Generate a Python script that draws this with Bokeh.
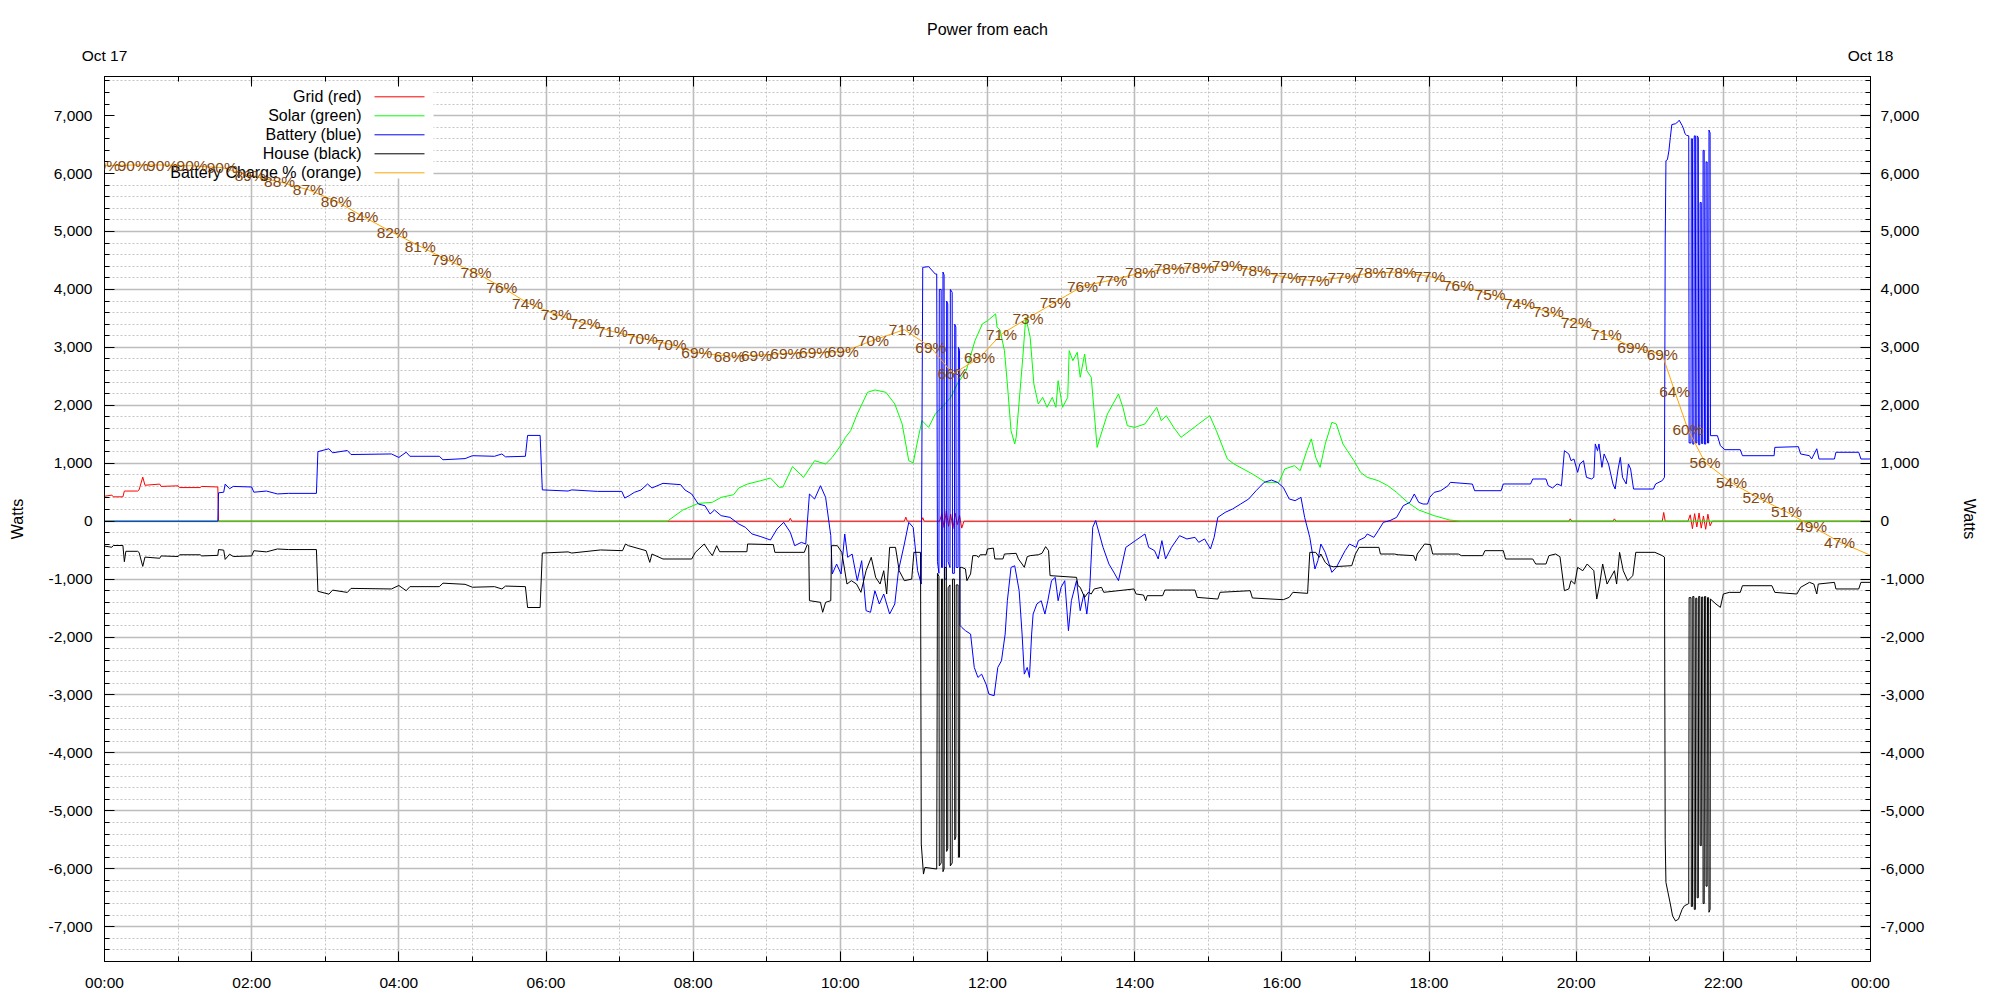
from bokeh.plotting import figure
from bokeh.models import (Range1d, LinearAxis, FixedTicker, NumeralTickFormatter,
                          Label, LabelSet, BoxAnnotation, ColumnDataSource)
from bokeh.embed import file_html
from bokeh.resources import INLINE
from bokeh.core.properties import value

# ---------------- data ----------------
title_text = "Power from each"
day_labels = ["Oct 17", "Oct 18"]
hour_ticks = list(range(0, 25, 2))
hour_labels = ["00:00", "02:00", "04:00", "06:00", "08:00", "10:00", "12:00",
               "14:00", "16:00", "18:00", "20:00", "22:00", "00:00"]
watt_ticks = list(range(-7000, 7001, 1000))
series_names = ["Grid (red)", "Solar (green)", "Battery (blue)", "House (black)",
                "Battery Charge % (orange)"]

# (hour of day, watts)
grid_pts = [(0, 430), (0.1, 450), (0.12, 420), (0.25, 420), (0.27, 520), (0.45, 520), (0.47, 540),
            (0.52, 760), (0.55, 620), (0.75, 640), (0.77, 600), (1.0, 610), (1.02, 580), (1.3, 580),
            (1.32, 600), (1.54, 590), (1.55, 0), (9.3, 0), (9.32, 50), (9.34, 0), (10.87, 0),
            (10.89, 70), (10.91, 0), (11.1, 0), (11.12, 60), (11.14, 0), (11.35, 0), (11.38, 130),
            (11.41, -110), (11.44, 180), (11.47, -90), (11.5, 120), (11.53, -130), (11.56, 140),
            (11.59, -60), (11.62, 100), (11.65, -120), (11.68, 0), (19.9, 0), (19.92, 40),
            (19.94, 0), (20.5, 0), (20.52, 40), (20.54, 0), (21.17, 0), (21.19, 150), (21.21, 0),
            (21.52, 0), (21.55, 110), (21.58, -130), (21.61, 130), (21.64, -100), (21.67, 140),
            (21.70, -120), (21.73, 90), (21.76, -140), (21.79, 120), (21.82, -80), (21.85, 0),
            (24, 0)]

solar_pts = [(0, 0), (7.65, 0), (7.86, 193), (8.07, 307), (8.26, 325), (8.38, 411), (8.55, 457),
             (8.62, 573), (8.74, 642), (8.92, 699), (9.05, 745), (9.17, 584), (9.22, 590),
             (9.35, 941), (9.50, 756), (9.65, 1044), (9.80, 987), (9.89, 1101), (10.02, 1333),
             (10.07, 1448), (10.14, 1562), (10.23, 1850), (10.37, 2224), (10.47, 2265),
             (10.62, 2224), (10.74, 2023), (10.84, 1678), (10.93, 1044), (10.99, 1005),
             (11.06, 1447), (11.11, 1735), (11.20, 1619), (11.29, 1850), (11.38, 1965),
             (11.50, 2137), (11.59, 2368), (11.71, 2598), (11.83, 3116), (11.93, 3404),
             (12.0, 3460), (12.11, 3577), (12.13, 3347), (12.17, 3300), (12.23, 2943),
             (12.27, 2368), (12.32, 1562), (12.37, 1333), (12.39, 1447), (12.48, 2828),
             (12.52, 3519), (12.58, 3174), (12.63, 2368), (12.69, 2023), (12.75, 2137),
             (12.81, 1965), (12.88, 2137), (12.93, 1965), (12.96, 2425), (13.02, 1965),
             (13.09, 2137), (13.11, 2943), (13.16, 2770), (13.22, 2914), (13.26, 2483),
             (13.32, 2885), (13.35, 2598), (13.41, 2483), (13.49, 1274), (13.53, 1447),
             (13.63, 1850), (13.78, 2195), (13.84, 1965), (13.90, 1648), (14.0, 1619),
             (14.14, 1678), (14.30, 1965), (14.36, 1735), (14.43, 1821), (14.53, 1619),
             (14.63, 1447), (14.87, 1678), (15.02, 1821), (15.11, 1562), (15.26, 1073),
             (15.35, 987), (15.60, 815), (15.78, 670), (15.96, 670), (16.04, 901), (16.17, 958),
             (16.25, 872), (16.34, 1217), (16.40, 1419), (16.46, 1102), (16.52, 929),
             (16.59, 1333), (16.68, 1706), (16.74, 1678), (16.83, 1333), (16.89, 1217),
             (16.98, 1044), (17.07, 843), (17.16, 757), (17.31, 699), (17.44, 613), (17.56, 497),
             (17.71, 325), (17.86, 193), (18.07, 95), (18.28, 20), (18.43, 0), (24, 0)]

battery_pts = [(0, 0), (1.54, 0), (1.55, 490), (1.62, 500), (1.64, 640), (1.70, 560), (1.75, 600),
               (2.0, 590), (2.03, 500), (2.2, 520), (2.35, 470), (2.5, 480), (2.88, 480),
               (2.90, 1200), (3.05, 1250), (3.1, 1180), (3.3, 1220), (3.35, 1150), (3.9, 1160),
               (4.0, 1100), (4.1, 1190), (4.15, 1120), (4.55, 1120), (4.6, 1060), (4.9, 1080),
               (5.0, 1130), (5.3, 1120), (5.4, 1160), (5.45, 1110), (5.72, 1120), (5.75, 1480),
               (5.92, 1480), (5.95, 540), (6.3, 520), (6.35, 540), (6.7, 514), (7.03, 514),
               (7.07, 399), (7.13, 440), (7.20, 497), (7.29, 537), (7.38, 642), (7.44, 573),
               (7.59, 653), (7.83, 630), (7.89, 537), (7.98, 469), (8.07, 296), (8.16, 267),
               (8.23, 124), (8.29, 193), (8.38, 95), (8.50, 66), (8.62, -48), (8.71, -106),
               (8.80, -221), (8.92, -267), (9.05, -325), (9.14, -135), (9.23, -20), (9.32, -192),
               (9.38, -423), (9.47, -366), (9.53, -394), (9.58, 469), (9.65, 382), (9.73, 612),
               (9.80, 411), (9.87, -250), (9.89, -912), (9.95, -740), (10.01, -912), (10.06, -221),
               (10.10, -624), (10.16, -567), (10.23, -1027), (10.29, -682), (10.35, -1545),
               (10.41, -1573), (10.47, -1200), (10.53, -1430), (10.59, -1257), (10.67, -1602),
               (10.74, -1430), (10.79, -855), (10.87, -394), (10.93, -20), (10.99, -106),
               (11.05, -855), (11.10, -1085), (11.12, 4381), (11.20, 4393), (11.29, 4266),
               (11.31, 4266), (11.32, -700), (11.34, -900), (11.345, 4000), (11.37, 4000),
               (11.375, -800), (11.39, -800), (11.395, 4300), (11.41, 4250), (11.415, -1000),
               (11.44, -1000), (11.445, 3800), (11.46, 3750), (11.465, -700), (11.49, -800),
               (11.495, 4000), (11.52, 3950), (11.525, -900), (11.55, -900), (11.555, 3400),
               (11.57, 3350), (11.575, -800), (11.60, -800), (11.605, 3000), (11.62, 2950),
               (11.625, -1800), (11.65, -1833), (11.70, -1890), (11.77, -1948), (11.82, -2524),
               (11.87, -2697), (11.92, -2640), (11.98, -2812), (12.02, -2985), (12.09, -3013),
               (12.14, -2524), (12.19, -2409), (12.24, -1948), (12.27, -1373), (12.32, -797),
               (12.37, -770), (12.43, -1200), (12.47, -1948), (12.50, -2640), (12.54, -2524),
               (12.57, -2697), (12.60, -1948), (12.62, -1603), (12.67, -1430), (12.73, -1373),
               (12.78, -1603), (12.82, -1373), (12.87, -1027), (12.92, -970), (12.96, -1373),
               (13.00, -1142), (13.05, -1027), (13.10, -1890), (13.14, -1373), (13.21, -1027),
               (13.26, -1545), (13.31, -1257), (13.35, -1603), (13.39, -1142), (13.43, -106),
               (13.47, 10), (13.52, -221), (13.57, -450), (13.65, -739), (13.73, -911),
               (13.78, -1027), (13.83, -739), (13.88, -452), (14.01, -336), (14.14, -221),
               (14.19, -452), (14.27, -509), (14.32, -652), (14.37, -336), (14.42, -652),
               (14.50, -452), (14.61, -250), (14.71, -307), (14.82, -279), (14.87, -365),
               (14.95, -307), (15.03, -480), (15.08, -279), (15.13, 66), (15.23, 152),
               (15.33, 210), (15.44, 296), (15.55, 383), (15.65, 526), (15.76, 670), (15.86, 710),
               (15.94, 670), (16.02, 583), (16.10, 383), (16.18, 354), (16.26, 411), (16.31, 66),
               (16.38, -279), (16.45, -825), (16.49, -682), (16.53, -394), (16.59, -538),
               (16.68, -883), (16.74, -797), (16.86, -509), (16.92, -394), (17.01, -452),
               (17.04, -336), (17.13, -279), (17.16, -221), (17.25, -279), (17.31, -163),
               (17.38, -20), (17.47, 10), (17.56, 66), (17.65, 267), (17.74, 325), (17.80, 469),
               (17.86, 325), (17.92, 296), (17.98, 296), (18.01, 411), (18.07, 497), (18.16, 526),
               (18.26, 613), (18.29, 670), (18.59, 640), (18.62, 526), (18.98, 526), (19.01, 642),
               (19.38, 642), (19.41, 728), (19.59, 728), (19.62, 613), (19.68, 573), (19.74, 642),
               (19.80, 613), (19.84, 1217), (19.90, 1160), (19.93, 1044), (19.97, 1073),
               (20.02, 843), (20.05, 987), (20.10, 1044), (20.14, 757), (20.21, 728), (20.24, 757),
               (20.26, 1333), (20.29, 1217), (20.31, 1333), (20.35, 929), (20.38, 1160),
               (20.44, 987), (20.50, 642), (20.53, 555), (20.57, 901), (20.60, 1102), (20.63, 757),
               (20.68, 642), (20.71, 987), (20.74, 901), (20.78, 555), (21.05, 555), (21.08, 642),
               (21.17, 700), (21.20, 757), (21.21, 4785), (21.22, 6222), (21.24, 6240),
               (21.26, 6390), (21.28, 6625), (21.30, 6845), (21.35, 6860), (21.39, 6900),
               (21.40, 6920), (21.44, 6830), (21.46, 6770), (21.48, 6685), (21.50, 6660),
               (21.53, 6650), (21.535, 1350), (21.56, 1350), (21.565, 6600), (21.58, 6600),
               (21.585, 1330), (21.60, 1330), (21.605, 6650), (21.62, 6650), (21.625, 1350),
               (21.64, 1350), (21.645, 6650), (21.66, 6620), (21.665, 1320), (21.68, 1320),
               (21.685, 5500), (21.70, 5500), (21.705, 1340), (21.72, 1340), (21.725, 6400),
               (21.74, 6400), (21.745, 1330), (21.76, 1330), (21.765, 6200), (21.78, 6200),
               (21.785, 1350), (21.80, 1350), (21.805, 6750), (21.82, 6700), (21.825, 1476),
               (21.92, 1476), (21.96, 1303), (22.02, 1234), (22.23, 1234), (22.26, 1130),
               (22.69, 1130), (22.70, 1274), (23.02, 1286), (23.05, 1160), (23.17, 1130),
               (23.20, 1073), (23.27, 1250), (23.30, 1073), (23.51, 1073), (23.53, 1189),
               (23.84, 1189), (23.87, 1073), (24.0, 1073)]

house_pts = [(0, -430), (0.1, -450), (0.12, -420), (0.25, -420), (0.27, -700), (0.29, -520),
             (0.45, -520), (0.47, -540), (0.52, -780), (0.55, -620), (0.75, -640), (0.77, -600),
             (1.0, -610), (1.02, -580), (1.3, -580), (1.32, -600), (1.54, -590), (1.55, -490),
             (1.62, -500), (1.64, -660), (1.70, -570), (1.75, -610), (2.0, -600), (2.03, -510),
             (2.2, -530), (2.35, -480), (2.5, -490), (2.88, -490), (2.90, -1210), (3.05, -1260),
             (3.1, -1190), (3.3, -1230), (3.35, -1160), (3.9, -1170), (4.0, -1110), (4.1, -1200),
             (4.15, -1130), (4.55, -1130), (4.6, -1070), (4.9, -1090), (5.0, -1140), (5.3, -1130),
             (5.4, -1170), (5.45, -1120), (5.72, -1130), (5.75, -1490), (5.92, -1490),
             (5.95, -550), (6.3, -530), (6.35, -550), (6.74, -497), (7.04, -509), (7.08, -394),
             (7.12, -423), (7.36, -509), (7.41, -711), (7.44, -567), (7.59, -653), (7.98, -653),
             (8.03, -538), (8.15, -394), (8.21, -509), (8.26, -595), (8.32, -423), (8.36, -527),
             (8.73, -527), (8.74, -394), (9.09, -405), (9.11, -538), (9.51, -538), (9.55, -405),
             (9.57, -423), (9.58, -1372), (9.73, -1401), (9.76, -1573), (9.80, -1401),
             (9.87, -1372), (9.88, -423), (9.96, -423), (10.02, -538), (10.09, -1085),
             (10.15, -1027), (10.22, -1085), (10.28, -1228), (10.35, -855), (10.42, -624),
             (10.48, -970), (10.54, -1085), (10.59, -855), (10.63, -1257), (10.67, -452),
             (10.75, -452), (10.80, -855), (10.87, -1027), (10.97, -1000), (11.00, -538),
             (11.09, -538), (11.10, -5573), (11.13, -6091), (11.15, -5976), (11.31, -6004),
             (11.32, -900), (11.34, -950), (11.345, -5950), (11.37, -5900), (11.375, -1000),
             (11.39, -1000), (11.395, -6050), (11.41, -6000), (11.415, -800), (11.44, -800),
             (11.445, -5700), (11.46, -5650), (11.465, -1150), (11.49, -1100), (11.495, -5950),
             (11.52, -5900), (11.525, -1000), (11.55, -1000), (11.555, -5500), (11.57, -5450),
             (11.575, -1100), (11.60, -1100), (11.605, -5800), (11.62, -5800), (11.625, -800),
             (11.65, -797), (11.70, -825), (11.72, -1027), (11.77, -911), (11.80, -595),
             (11.85, -595), (11.88, -623), (11.90, -580), (11.98, -580), (12.00, -480),
             (12.08, -465), (12.10, -652), (12.21, -652), (12.23, -567), (12.39, -555),
             (12.42, -652), (12.47, -740), (12.50, -797), (12.54, -612), (12.58, -595),
             (12.69, -580), (12.74, -555), (12.79, -440), (12.83, -509), (12.85, -940),
             (13.21, -970), (13.23, -1114), (13.26, -1142), (13.32, -1315), (13.37, -1228),
             (13.41, -1257), (13.45, -1170), (13.55, -1142), (13.58, -1228), (13.99, -1170),
             (14.02, -1257), (14.12, -1275), (14.15, -1373), (14.17, -1286), (14.38, -1286),
             (14.41, -1189), (14.82, -1189), (14.85, -1315), (15.13, -1344), (15.16, -1228),
             (15.57, -1200), (15.60, -1326), (16.02, -1355), (16.10, -1315), (16.15, -1228),
             (16.35, -1246), (16.38, -538), (16.46, -538), (16.51, -623), (16.53, -567),
             (16.59, -711), (16.64, -768), (16.70, -786), (16.95, -768), (17.00, -567),
             (17.05, -452), (17.32, -452), (17.34, -567), (17.53, -567), (17.58, -580),
             (17.79, -595), (17.82, -682), (17.84, -567), (17.94, -394), (18.02, -405),
             (18.05, -567), (18.40, -567), (18.44, -595), (18.73, -595), (18.76, -509),
             (19.01, -509), (19.04, -653), (19.41, -653), (19.45, -739), (19.59, -739),
             (19.63, -595), (19.72, -567), (19.78, -613), (19.84, -1200), (19.90, -1170),
             (19.93, -1027), (19.98, -1085), (20.02, -797), (20.09, -855), (20.15, -739),
             (20.24, -855), (20.28, -1344), (20.32, -1085), (20.36, -739), (20.42, -1085),
             (20.52, -855), (20.55, -1085), (20.59, -538), (20.64, -855), (20.70, -1027),
             (20.77, -941), (20.81, -538), (21.07, -538), (21.17, -595), (21.20, -620),
             (21.21, -5500), (21.22, -6235), (21.28, -6608), (21.31, -6813), (21.35, -6900),
             (21.39, -6870), (21.44, -6700), (21.47, -6640), (21.53, -6600), (21.535, -1320),
             (21.56, -1320), (21.565, -6650), (21.58, -6650), (21.585, -1300), (21.60, -1300),
             (21.605, -6700), (21.62, -6700), (21.625, -1330), (21.64, -1330), (21.645, -6500),
             (21.66, -6500), (21.665, -1300), (21.68, -1300), (21.685, -5600), (21.70, -5600),
             (21.705, -1310), (21.72, -1310), (21.725, -6600), (21.74, -6600), (21.745, -1300),
             (21.76, -1300), (21.765, -6300), (21.78, -6300), (21.785, -1320), (21.80, -1320),
             (21.805, -6750), (21.82, -6700), (21.825, -1344), (21.90, -1430), (21.96, -1488),
             (22.00, -1257), (22.08, -1229), (22.23, -1229), (22.26, -1114), (22.66, -1114),
             (22.70, -1229), (23.00, -1257), (23.05, -1142), (23.17, -1056), (23.23, -1085),
             (23.27, -1257), (23.29, -1085), (23.51, -1056), (23.53, -1170), (23.84, -1170),
             (23.87, -1056), (24.0, -1056)]

# battery state of charge: hour, percent, printed label
charge_t = [0.0, 0.39, 0.79, 1.19, 1.60, 1.98, 2.38, 2.77, 3.15, 3.51, 3.91, 4.29, 4.65, 5.05,
            5.40, 5.75, 6.14, 6.53, 6.90, 7.31, 7.70, 8.05, 8.49, 8.86, 9.26, 9.65, 10.04, 10.45,
            10.87, 11.23, 11.53, 11.89, 12.19, 12.55, 12.92, 13.29, 13.69, 14.08, 14.47, 14.87,
            15.26, 15.64, 16.05, 16.44, 16.83, 17.21, 17.62, 18.01, 18.40, 18.83, 19.23, 19.62,
            20.00, 20.41, 20.77, 21.17, 21.34, 21.52, 21.75, 22.11, 22.47, 22.86, 23.20, 23.58,
            24.0]
charge_pct = [89.9, 90.0, 90.0, 89.9, 89.7, 88.8, 88.1, 87.2, 85.9, 84.2, 82.4, 80.8, 79.3, 77.8,
              76.2, 74.4, 73.1, 72.1, 71.2, 70.4, 69.7, 68.8, 68.4, 68.5, 68.7, 68.8, 68.9, 70.2,
              71.4, 69.4, 66.4, 68.2, 70.9, 72.7, 74.5, 76.3, 77.0, 77.8, 78.3, 78.4, 78.6, 78.1,
              77.3, 76.9, 77.3, 77.8, 77.9, 77.4, 76.4, 75.4, 74.4, 73.4, 72.2, 70.8, 69.4, 68.6,
              64.4, 60.1, 56.4, 54.1, 52.4, 50.8, 49.2, 47.4, 45.9]
charge_lbl = ["90%", "90%", "90%", "90%", "90%", "89%", "88%", "87%", "86%", "84%", "82%", "81%",
              "79%", "78%", "76%", "74%", "73%", "72%", "71%", "70%", "70%", "69%", "68%", "69%",
              "69%", "69%", "69%", "70%", "71%", "69%", "66%", "68%", "71%", "73%", "75%", "76%",
              "77%", "78%", "78%", "78%", "79%", "78%", "77%", "77%", "77%", "78%", "78%", "77%",
              "76%", "75%", "74%", "73%", "72%", "71%", "69%", "69%", "64%", "60%", "56%", "54%",
              "52%", "51%", "49%", "47%", ""]

# ---------------- styling / layout ----------------
FONT = "Liberation Sans"
COLORS = ["#ff0000", "#00ff00", "#0000ff", "#000000", "#ffa500"]
LABEL_BROWN = "#85480f"
FRAME_W, FRAME_H = 1766, 885
Y_MIN, Y_MAX = -7600, 7675

p = figure(frame_width=FRAME_W, frame_height=FRAME_H,
           min_border_left=104, min_border_right=122, min_border_top=76, min_border_bottom=31,
           x_range=Range1d(0, 24), y_range=Range1d(Y_MIN, Y_MAX),
           output_backend="svg", toolbar_location=None, title=title_text)
p.extra_y_ranges = {"pct": Range1d(0, 100)}
p.background_fill_color = "white"
p.border_fill_color = "white"
p.outline_line_color = "black"
p.outline_line_width = 1

p.title.align = "center"
p.title.text_font = FONT
p.title.text_font_size = "16px"
p.title.text_font_style = "normal"
p.title.text_color = "black"
p.title.standoff = 11

x_minor = [h for h in range(1, 24, 2)]
y_minor = [v for v in range(-7600, 7601, 200) if v % 1000 != 0]
xt = FixedTicker(ticks=hour_ticks, minor_ticks=x_minor)
yt = FixedTicker(ticks=watt_ticks, minor_ticks=y_minor)


def style_axis(ax, standoff):
    ax.axis_line_color = "black"
    ax.axis_line_width = 1
    ax.major_tick_in = 10
    ax.major_tick_out = 0
    ax.minor_tick_in = 5
    ax.minor_tick_out = 0
    ax.major_tick_line_color = "black"
    ax.minor_tick_line_color = "black"
    ax.major_label_text_font = FONT
    ax.major_label_text_font_size = "15.5px"
    ax.major_label_text_color = "black"
    ax.major_label_standoff = standoff
    ax.axis_label_text_font = FONT
    ax.axis_label_text_font_size = "16px"
    ax.axis_label_text_font_style = "normal"
    ax.axis_label_text_color = "black"


bx = p.xaxis[0]
bx.ticker = xt
bx.major_label_overrides = {t: s for t, s in zip(hour_ticks, hour_labels)}
style_axis(bx, 12)

top = LinearAxis(ticker=FixedTicker(ticks=hour_ticks, minor_ticks=x_minor))
top_over = {t: "" for t in hour_ticks}
top_over[hour_ticks[0]] = day_labels[0]
top_over[hour_ticks[-1]] = day_labels[1]
top.major_label_overrides = top_over
style_axis(top, 13)
p.add_layout(top, "above")

ly = p.yaxis[0]
ly.ticker = yt
ly.formatter = NumeralTickFormatter(format="0,0")
ly.axis_label = "Watts"
style_axis(ly, 12)
ly.axis_label_standoff = 20

ry = LinearAxis(ticker=FixedTicker(ticks=watt_ticks, minor_ticks=y_minor),
                formatter=NumeralTickFormatter(format="0,0"), axis_label="Watts")
style_axis(ry, 10)
ry.axis_label_standoff = 34
p.add_layout(ry, "right")

for g, tk in ((p.xgrid[0], xt), (p.ygrid[0], yt)):
    g.ticker = tk
    g.level = "image"
    g.grid_line_color = "#bdbdbd"
    g.grid_line_width = 1.6
    g.minor_grid_line_color = "#c4c4c4"
    g.minor_grid_line_width = 1
    g.minor_grid_line_dash = "2 2"


def px2x(px):
    return px / FRAME_W * 24.0


def py2y(py):
    return Y_MAX - py / FRAME_H * (Y_MAX - Y_MIN)


# opaque key area (covers grid, under the data lines)
p.add_layout(BoxAnnotation(left=px2x(0), right=px2x(329), top=py2y(7), bottom=py2y(102),
                           fill_color="white", fill_alpha=1.0, line_alpha=0, level="underlay"))

# data lines (drawn in key order)
for pts, col in zip([grid_pts, solar_pts, battery_pts, house_pts], COLORS[:4]):
    xs = [a for a, _ in pts]
    ys = [b for _, b in pts]
    p.line(xs, ys, line_color=col, line_width=1)

p.line(charge_t, charge_pct, y_range_name="pct", line_color=COLORS[4], line_width=1)

# key (text right-aligned, sample to its right)
for i, (name, col) in enumerate(zip(series_names, COLORS)):
    yy = py2y(20.3 + 19.0 * i)
    p.add_layout(Label(x=px2x(257), y=yy, text=name, text_align="right", text_baseline="middle",
                       text_font=FONT, text_font_size="16px", text_color="black"))
    p.segment(x0=[px2x(270)], y0=[yy], x1=[px2x(320)], y1=[yy], line_color=col, line_width=1)

src = ColumnDataSource(dict(t=charge_t, v=charge_pct, s=charge_lbl))
p.add_layout(LabelSet(x="t", y="v", text="s", source=src, y_range_name="pct",
                      text_align="center", text_baseline="middle",
                      text_font=value(FONT), text_font_size=value("15.5px"),
                      text_color=LABEL_BROWN))

open("out.html", "w").write(file_html(p, INLINE))
